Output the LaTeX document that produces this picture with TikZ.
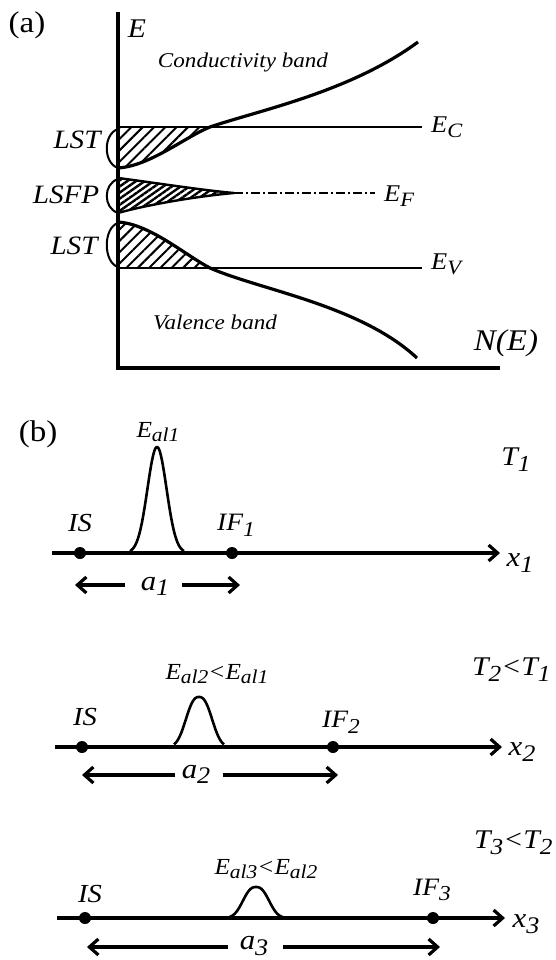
\documentclass[tikz,border=0pt]{standalone}
\usepackage{fontspec}
\setmainfont{Liberation Serif}[FakeStretch=1.1]
\usetikzlibrary{arrows.meta,patterns.meta}
\newcommand\lo[2][-0.35ex]{\raisebox{#1}{\scalebox{0.85}{#2}}}
\begin{document}
\begin{tikzpicture}[x=1pt,y=-1pt,
  txt/.style={inner sep=0pt, font=\fontsize{#1}{#1}\selectfont\itshape},
  panel/.style={inner sep=0pt, font=\fontsize{30}{30}\selectfont},
  axis/.style={line width=3.6pt},
  level/.style={line width=2.8pt},
  band/.style={line width=3.2pt},
  hatch/.style={pattern={Lines[angle=45,distance=8pt,line width=2pt]}},
  dense/.style={pattern={Lines[angle=35,distance=5pt,line width=2.4pt]}},
  brk/.style={line width=2pt},
  xaxis/.style={line width=3.2pt,-{Straight Barb[length=9pt,width=16pt]}},
  dim/.style={line width=3.2pt,-{Straight Barb[length=9pt,width=16pt]}},
  dot/.style={circle,fill,inner sep=0pt,minimum size=12pt},
  peak/.style={line width=2.6pt},
  dashdot/.style={line width=2.6pt,dash pattern=on 9pt off 3pt on 2pt off 3pt}
]
\useasboundingbox (0,0) rectangle (555,960);

% ---------------- (a) ----------------
\node[panel] (pa) at (27,25) {(a)};
\coordinate (Etop) at (118,12);
\coordinate (O) at (118,368);
\coordinate (Nend) at (500,368);
\draw[axis] (Etop) -- (O) -- (Nend);
\node[txt=27] (Elab) at (137,29) {E};
\node[txt=21] (cond) at (243,62) {Conductivity band};
\node[txt=21] (val) at (215,322) {Valence band};
\node[txt=30] (NE) at (506,343) {N(E)};

% levels
\coordinate (ECl) at (118,127); \coordinate (ECr) at (422,127);
\coordinate (EVl) at (118,268); \coordinate (EVr) at (422,268);
\coordinate (EFl) at (234,193); \coordinate (EFr) at (375,193);
\draw[level] (ECl) -- (ECr);
\draw[level] (EVl) -- (EVr);
\draw[dashdot] (EFl) -- (EFr);
\node[txt=24,anchor=west] (EC) at (431,127) {E\lo[-0.45ex]{C}};
\node[txt=24,anchor=west] (EF) at (384,196) {E\lo[-0.45ex]{F}};
\node[txt=24,anchor=west] (EV) at (431,264) {E\lo[-0.45ex]{V}};

% upper LST
\fill[hatch] (118,127) -- (210,127) .. controls (185,137) and (150,166) .. (118,168) -- cycle;
\draw[band] (118,168) .. controls (150,166) and (185,137) .. (210,127)
  .. controls (260,110) and (350,92) .. (418,42);
% LSFP
\filldraw[dense,line width=2.4pt] (118,178) .. controls (150,182) and (200,190) .. (EFl)
  .. controls (200,196) and (150,204) .. (118,213) -- cycle;
% lower LST
\fill[hatch] (118,222) .. controls (150,224) and (185,255) .. (210,268) -- (118,268) -- cycle;
\draw[band] (118,222) .. controls (150,224) and (185,255) .. (210,268)
  .. controls (260,290) and (360,305) .. (417,358);
% brackets
\draw[brk] (118,129) .. controls (103,134) and (103,163) .. (118,168);
\draw[brk] (118,179) .. controls (103,184) and (103,208) .. (118,213);
\draw[brk] (118,223) .. controls (103,228) and (103,262) .. (118,267);
\node[txt=26.5] (LST1) at (77,140) {LST};
\node[txt=26.5] (LSFP) at (66,195) {LSFP};
\node[txt=26.5] (LST2) at (74,246) {LST};

% ---------------- (b) ----------------
\node[panel] (pb) at (38,434) {(b)};

% line 1
\coordinate (s1) at (52,553); \coordinate (e1) at (500,553);
\draw[xaxis] (s1) -- (e1);
\draw[peak] plot[domain=130:184,samples=80] (\x,{553-106*exp(-((\x-157)/13.5)*((\x-157)/13.5))});
\node[dot] (IS1) at (80,553) {};
\node[dot] (IF1) at (232,553) {};
\node[txt=26] (IS1l) at (80,523) {IS};
\node[txt=25] (IF1l) at (236,525) {IF\lo[-0.5ex]{1}};
\node[txt=23] (Eal1) at (158,432) {E\lo{al1}};
\node[txt=27] (T1) at (516,460) {T\lo[-0.5ex]{1}};
\node[txt=28] (x1) at (520,563) {x\lo[-0.5ex]{1}};
\node[txt=28] (a1) at (155,586) {a\lo[-0.4ex]{1}};
\coordinate (a1ls) at (125,585); \coordinate (a1le) at (75,585);
\coordinate (a1rs) at (182,585); \coordinate (a1re) at (240,585);
\draw[dim] (a1ls) -- (a1le);
\draw[dim] (a1rs) -- (a1re);

% line 2
\coordinate (s2) at (55,747); \coordinate (e2) at (502,747);
\draw[xaxis] (s2) -- (e2);
\draw[peak] plot[domain=174:224,samples=80] (\x,{747-50*exp(-(abs(\x-199)/16.2)^2.5)});
\node[dot] (IS2) at (82,747) {};
\node[dot] (IF2) at (333,747) {};
\node[txt=26] (IS2l) at (85,717) {IS};
\node[txt=25] (IF2l) at (341,722) {IF\lo[-0.5ex]{2}};
\node[txt=23] (Eal2) at (217,674) {E\lo{al2}<E\lo{al1}};
\node[txt=27,anchor=west] (T2) at (472,670) {T\lo[-0.5ex]{2}<T\lo[-0.5ex]{1}};
\node[txt=28] (x2) at (522,752) {x\lo[-0.5ex]{2}};
\node[txt=28] (a2) at (196,774) {a\lo[-0.4ex]{2}};
\coordinate (a2ls) at (175,775); \coordinate (a2le) at (82,775);
\coordinate (a2rs) at (223,775); \coordinate (a2re) at (338,775);
\draw[dim] (a2ls) -- (a2le);
\draw[dim] (a2rs) -- (a2re);

% line 3
\coordinate (s3) at (57,918); \coordinate (e3) at (505,918);
\draw[xaxis] (s3) -- (e3);
\draw[peak] plot[domain=229:284,samples=80] (\x,{918-31*exp(-(abs(\x-256)/16.2)^2.5)});
\node[dot] (IS3) at (85,918) {};
\node[dot] (IF3) at (433,918) {};
\node[txt=26] (IS3l) at (90,894) {IS};
\node[txt=25] (IF3l) at (432,890) {IF\lo[-0.5ex]{3}};
\node[txt=23] (Eal3) at (266,869) {E\lo{al3}<E\lo{al2}};
\node[txt=27,anchor=west] (T3) at (474,843) {T\lo[-0.5ex]{3}<T\lo[-0.5ex]{2}};
\node[txt=28] (x3) at (526,924) {x\lo[-0.5ex]{3}};
\node[txt=28] (a3) at (254,946) {a\lo[-0.4ex]{3}};
\coordinate (a3ls) at (228,947); \coordinate (a3le) at (87,947);
\coordinate (a3rs) at (283,947); \coordinate (a3re) at (440,947);
\draw[dim] (a3ls) -- (a3le);
\draw[dim] (a3rs) -- (a3re);
\end{tikzpicture}
\end{document}
